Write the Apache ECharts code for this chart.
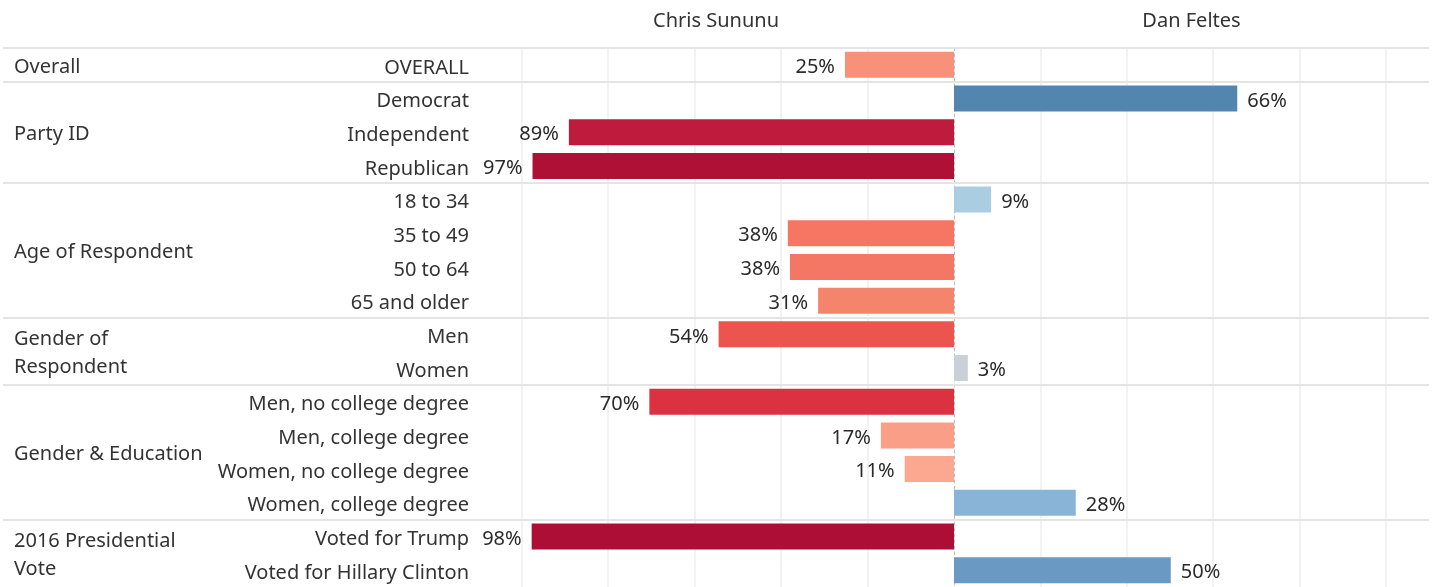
<!DOCTYPE html>
<html>
<head>
<meta charset="utf-8">
<script src="https://cdn.jsdelivr.net/npm/echarts@6/dist/echarts.min.js"></script>
<style>
  html, body { margin: 0; padding: 0; background: #fff; }
  #chart { width: 1435px; height: 587px; }
</style>
</head>
<body>
<div id="chart"></div>
<script>
const categories = ['OVERALL', 'Democrat', 'Independent', 'Republican', '18 to 34', '35 to 49', '50 to 64', '65 and older',
  'Men', 'Women', 'Men, no college degree', 'Men, college degree', 'Women, no college degree', 'Women, college degree',
  'Voted for Trump', 'Voted for Hillary Clinton'];
const groupNames = ['Overall', 'Party ID', 'Age of Respondent', 'Gender of\nRespondent', 'Gender & Education', '2016 Presidential\nVote'];
const groupSizes = [1, 3, 4, 2, 4, 2];
// lead margin in points, null where the other candidate leads
const sununuLead = [25.2, null, 89.0, 97.4, null, 38.4, 37.9, 31.4, 54.4, null, 70.4, 16.9, 11.4, null, 97.6, null];
const feltesLead = [null, 65.6, null, null, 8.6, null, null, null, null, 3.2, null, null, null, 28.2, null, 50.2];
const gridTicks = [20, 40, 60, 80, 100];

// colours per row (diverging red-blue)
const rowColors = ['#F89179', '#5385B1', '#BF1B3D', '#AE1036', '#ABCDE1', '#F47663', '#F47765', '#F5846C',
  '#EC554D', '#C9D0D8', '#DB3242', '#FB9E88', '#FCA790', '#87B4D7', '#AD0E36', '#6A9AC3'];

const FONT = 'Noto Sans';
const FS = 20;
const TXT = '#333333';

// group start rows -> separator lines, group centres -> labels
const groupStarts = [];
const groupLabels = [];
let acc = 0;
groupSizes.forEach((n, k) => {
  groupStarts.push(acc);
  groupLabels.push({ name: groupNames[k], value: [0, acc + n / 2] });
  acc += n;
});

const rowH = 33.94;
const gridTop = 48;
const gridH = rowH * categories.length;

const chart = echarts.init(document.getElementById('chart'));
const valueAxis = (gi, inverse, name) => ({
  type: 'value', gridIndex: gi, min: 0, max: 110, interval: 20, inverse: inverse,
  position: 'top', name: name, nameLocation: 'middle', nameGap: 17,
  nameTextStyle: { fontFamily: FONT, fontSize: FS, color: TXT },
  axisLine: { show: false }, axisLabel: { show: false },
  axisTick: { show: false, customValues: gridTicks },
  splitLine: { show: true, lineStyle: { color: '#eeeeee', width: 1.5 } }
});
const barLabel = (pos) => ({
  show: true, position: pos, distance: 10, offset: [0, 2.5], fontFamily: FONT, fontSize: FS, color: '#2a2a2a',
  formatter: p => Math.round(p.value) + '%'
});

chart.setOption({
  animation: false,
  grid: [
    { left: 478, width: 476, top: gridTop, height: gridH },
    { left: 954, width: 475, top: gridTop, height: gridH },
    { left: 3, width: 1426, top: gridTop, height: gridH }
  ],
  xAxis: [
    valueAxis(0, true, 'Chris Sununu'),
    valueAxis(1, false, 'Dan Feltes'),
    { type: 'value', gridIndex: 2, min: 0, max: 1, show: false }
  ],
  yAxis: [
    {
      type: 'category', gridIndex: 0, data: categories, inverse: true,
      axisLine: { show: false }, axisTick: { show: false }, splitLine: { show: false },
      axisLabel: {
        margin: 9, fontFamily: FONT, fontSize: FS, color: TXT,
        formatter: v => '{t|' + v + '}',
        rich: { t: { fontFamily: FONT, fontSize: FS, color: TXT, padding: [6, 0, 0, 0] } }
      }
    },
    {
      type: 'category', gridIndex: 1, data: categories, inverse: true,
      axisTick: { show: false }, axisLabel: { show: false },
      axisLine: { show: true, lineStyle: { color: '#bdbdbd', type: [3, 3], width: 1 } }
    },
    { type: 'value', gridIndex: 2, min: 0, max: categories.length, inverse: true, show: false }
  ],
  series: [
    {
      type: 'scatter', xAxisIndex: 2, yAxisIndex: 2, symbolSize: 0, silent: true,
      itemStyle: { opacity: 1 },
      data: groupLabels,
      label: {
        show: true, position: 'right', distance: 11, offset: [0, 2], formatter: p => p.name,
        fontFamily: FONT, fontSize: FS, color: TXT, lineHeight: 28
      },
      markLine: {
        silent: true, symbol: 'none', label: { show: false },
        lineStyle: { color: '#e4e4e4', width: 2, type: 'solid' },
        data: groupStarts.map(s => ({ yAxis: s }))
      }
    },
    {
      name: 'Chris Sununu', type: 'bar', xAxisIndex: 0, yAxisIndex: 0, barWidth: 26,
      data: sununuLead.map((v, i) => v == null ? null : { value: v, itemStyle: { color: rowColors[i] } }),
      label: barLabel('left')
    },
    {
      name: 'Dan Feltes', type: 'bar', xAxisIndex: 1, yAxisIndex: 1, barWidth: 26,
      data: feltesLead.map((v, i) => v == null ? null : { value: v, itemStyle: { color: rowColors[i] } }),
      label: barLabel('right')
    }
  ]
});
</script>
</body>
</html>
